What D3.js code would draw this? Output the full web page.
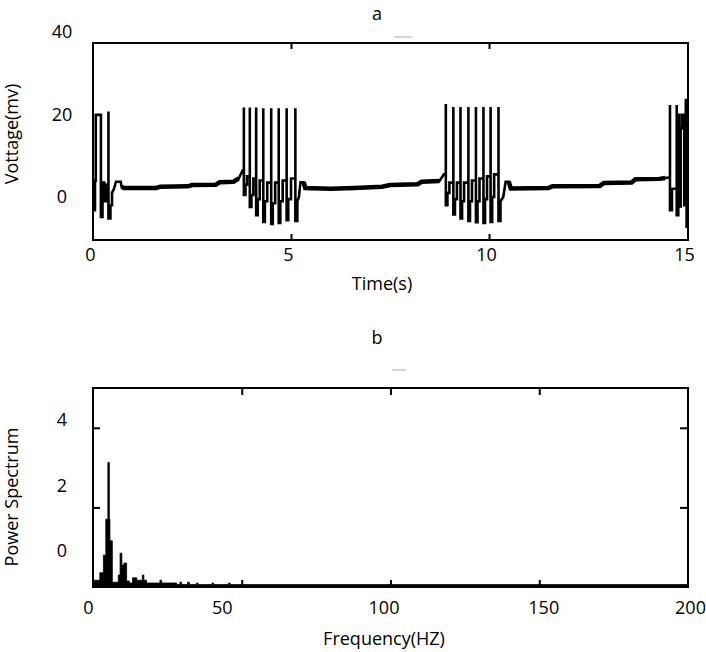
<!DOCTYPE html>
<html>
<head>
<meta charset="utf-8">
<script src="https://cdn.jsdelivr.net/npm/d3@7"></script>
<style>
body{margin:0;background:#fff;}
text{font-family:"Open Sans",sans-serif;fill:#000;}
</style>
</head>
<body>
<div id="chart"></div>
<script>
// DATOS: traza de voltaje (t en s, v en mV)
const voltageTrace = [
  [0.00,1.0],[0.03,1.0],[0.03,-3.2],[0.05,-3.2],[0.05,4.0],[0.07,4.0],[0.07,19.9],[0.20,19.9],[0.20,-4.8],[0.24,-4.8],
  [0.24,3.5],[0.28,3.5],[0.28,-1.0],[0.33,-1.0],[0.33,3.0],[0.39,3.0],[0.39,20.7],[0.39,-5.2],[0.44,-5.2],[0.44,-2.0],
  [0.48,-2.0],[0.48,1.0],[0.53,2.0],[0.58,3.7],[0.70,3.7],[0.72,2.5],[0.78,2.2],
  [1.6,2.2],[1.7,2.5],[2.4,2.6],[2.5,2.9],[3.1,3.0],[3.2,3.6],[3.55,3.7],[3.68,4.5],[3.78,6.5],
  [3.81,6.5],[3.81,21.7],[3.81,0.5],[3.85,0.5],[3.85,3.0],[3.89,3.0],[3.89,5.0],[3.96,5.0],
  [3.96,21.7],[3.96,-2.4],[4.00,-2.4],[4.00,0.5],[4.05,0.5],[4.05,4.5],[4.12,4.5],
  [4.12,21.7],[4.12,-4.4],[4.16,-4.4],[4.16,-0.5],[4.21,-0.5],[4.21,4.0],[4.30,4.0],
  [4.30,21.5],[4.30,-6.0],[4.34,-6.0],[4.34,-1.0],[4.40,-1.0],[4.40,3.5],[4.50,3.5],
  [4.50,21.5],[4.50,-6.5],[4.54,-6.5],[4.54,-1.5],[4.60,-1.5],[4.60,3.5],[4.69,3.5],
  [4.69,21.5],[4.69,-6.3],[4.73,-6.3],[4.73,-1.0],[4.79,-1.0],[4.79,4.0],[4.89,4.0],
  [4.89,21.5],[4.89,-5.6],[4.93,-5.6],[4.93,-0.5],[5.00,-0.5],[5.00,4.5],[5.11,4.5],
  [5.11,21.5],[5.11,-5.8],[5.16,-5.8],[5.16,-1.0],[5.20,0.0],[5.24,3.6],[5.32,3.6],[5.36,2.2],
  [6.0,2.0],[6.6,2.2],[7.3,2.5],[7.5,2.9],[8.2,3.1],[8.3,3.7],[8.75,3.9],[8.86,5.5],
  [8.91,5.5],[8.91,22.5],[8.91,-2.0],[8.95,-2.0],[8.95,1.0],[9.00,1.0],[9.00,3.5],[9.10,3.5],
  [9.10,21.8],[9.10,-4.2],[9.14,-4.2],[9.14,-0.5],[9.19,-0.5],[9.19,3.5],[9.28,3.5],
  [9.28,21.8],[9.28,-5.2],[9.32,-5.2],[9.32,-1.0],[9.37,-1.0],[9.37,3.5],[9.48,3.5],
  [9.48,21.8],[9.48,-5.8],[9.52,-5.8],[9.52,-1.0],[9.57,-1.0],[9.57,4.0],[9.67,4.0],
  [9.67,21.8],[9.67,-6.1],[9.71,-6.1],[9.71,-1.0],[9.76,-1.0],[9.76,4.5],[9.86,4.5],
  [9.86,21.8],[9.86,-6.3],[9.90,-6.3],[9.90,-0.5],[9.95,-0.5],[9.95,5.0],[10.04,5.0],
  [10.04,21.8],[10.04,-6.0],[10.08,-6.0],[10.08,0.0],[10.13,0.0],[10.13,5.5],[10.24,5.5],
  [10.24,21.8],[10.24,-5.8],[10.29,-5.8],[10.29,-1.0],[10.36,0.0],[10.42,3.7],[10.50,3.7],[10.55,2.1],
  [11.5,2.2],[11.6,2.6],[12.8,2.7],[12.9,3.4],[13.6,3.5],[13.7,4.3],[14.3,4.4],[14.45,4.6],
  [14.57,4.8],[14.57,22.3],[14.57,-3.2],[14.62,-3.2],[14.62,2.0],[14.74,2.0],[14.74,22.3],[14.74,-4.4],
  [14.78,-4.4],[14.78,19.9],[14.80,19.9],[14.80,-2.3],[14.84,-2.3],[14.84,16.7],[14.87,16.7],[14.87,19.9],
  [14.93,19.9],[14.93,-2.0],[14.97,-2.0],[14.97,23.5],[14.99,23.5],[14.99,-7.2],[15.0,-7.2]
];
// tramos de reposo (traza mas gruesa)
const restSpans = [[0.72,3.72],[5.32,8.8],[10.5,14.5]];

// espectro de potencia (Hz, potencia)
const specFreq  = [0,2.3,3.5,4.3,5.0,5.5,5.7,6.5,8.5,9.1,9.7,10.4,11.3,12.2,13.3,14.7,16.6,17.1,18.0,22.5,23.1,28.1,29.2,29.8,31.8,32.4,34.8,35.3,40.0,40.5,45.6,46.1,200];
const specPower = [0.17,0.36,0.8,1.7,3.13,1.7,1.16,0.12,0.3,0.85,0.55,0.6,0.15,0.1,0.23,0.17,0.3,0.17,0.1,0.17,0.1,0.06,0.12,0.06,0.12,0.06,0.1,0.06,0.1,0.06,0.1,0.06,0.06];

const timeTicks = [0,5,10,15];
const voltTicks = [0,20,40];
const freqTicks = [0,50,100,150,200];
const powerTicks = [0,2,4];

const FS = 18;
const svg = d3.select("#chart").append("svg").attr("width",706).attr("height",652);

function styleAxis(g){
  g.attr("font-size",FS).attr("font-family","'Open Sans',sans-serif");
  g.select(".domain").remove();
}

//PANEL A
const pa = {left:93, top:43, width:595, height:197};
const xT = d3.scaleLinear().domain([0,15]).range([0,594]);
const yV = d3.scaleLinear().domain([-10.4,37.3]).range([pa.height,0]);
const ga = svg.append("g").attr("transform","translate(" + pa.left + "," + pa.top + ")");

const line = d3.line().x(d => xT(d[0])).y(d => yV(d[1]));

ga.append("path").datum(voltageTrace)
  .attr("d",line).attr("fill","none").attr("stroke","#000")
  .attr("stroke-width",2.6).attr("stroke-linejoin","miter");

restSpans.forEach(function(s){
  ga.append("path").datum(voltageTrace.filter(d => d[0] >= s[0] && d[0] <= s[1]))
    .attr("d",line).attr("fill","none").attr("stroke","#000")
    .attr("stroke-width",4.5);
});

ga.append("rect").attr("width",pa.width).attr("height",pa.height)
  .attr("fill","none").attr("stroke","#000").attr("stroke-width",2);

// ticks hacia dentro
ga.append("g").attr("transform","translate(0," + pa.height + ")")
  .call(d3.axisBottom(xT).tickValues(timeTicks.slice(1,-1)).tickSize(-6).tickFormat(""))
  .call(styleAxis).selectAll("line").attr("stroke-width",2);
ga.append("g")
  .call(d3.axisTop(xT).tickValues(timeTicks.slice(1,-1)).tickSize(-6).tickFormat(""))
  .call(styleAxis).selectAll("line").attr("stroke-width",2);

// etiquetas
ga.append("g").attr("transform","translate(0," + pa.height + ")")
  .call(d3.axisBottom(xT).tickValues(timeTicks).tickSize(0).tickPadding(8).tickFormat(d3.format("d")))
  .call(styleAxis).selectAll("text").attr("dx",-3);
ga.append("g")
  .call(d3.axisLeft(yV).tickValues(voltTicks).tickSize(0).tickFormat(d3.format("d")))
  .call(styleAxis).selectAll("text").attr("x",-31).attr("text-anchor","middle");

//PANEL B
const pb = {left:93, top:388, width:595, height:199};
const xF = d3.scaleLinear().domain([0,200]).range([0,pb.width]);
const yP = d3.scaleLinear().domain([0,5]).range([pb.height,0]);
const yPlab = d3.scaleLinear().domain([0,4]).range([163,32]);
const gb = svg.append("g").attr("transform","translate(" + pb.left + "," + pb.top + ")");

const spec = specFreq.map((f,i) => ({f:f, p:specPower[i]}));
gb.append("path").datum(spec)
  .attr("d", d3.area().curve(d3.curveStepAfter)
    .x(d => xF(d.f)).y0(pb.height).y1(d => yP(d.p)))
  .attr("fill","#000").attr("stroke","#000").attr("stroke-width",0.8);

gb.append("rect").attr("width",pb.width).attr("height",pb.height)
  .attr("fill","none").attr("stroke","#000").attr("stroke-width",2);

gb.append("g").attr("transform","translate(0," + pb.height + ")")
  .call(d3.axisBottom(xF).tickValues(freqTicks.slice(1,-1)).tickSize(-7).tickFormat(""))
  .call(styleAxis).selectAll("line").attr("stroke-width",2);
gb.append("g")
  .call(d3.axisTop(xF).tickValues(freqTicks.slice(1,-1)).tickSize(-7).tickFormat(""))
  .call(styleAxis).selectAll("line").attr("stroke-width",2);
gb.append("g")
  .call(d3.axisLeft(yP).tickValues(powerTicks.slice(1)).tickSize(-7).tickFormat(""))
  .call(styleAxis).selectAll("line").attr("stroke-width",2);
gb.append("g").attr("transform","translate(" + pb.width + ",0)")
  .call(d3.axisRight(yP).tickValues(powerTicks.slice(1)).tickSize(-8).tickFormat(""))
  .call(styleAxis).selectAll("line").attr("stroke-width",2);

const freqNudge = [-5,-20,-7,4,2];
gb.append("g").attr("transform","translate(0," + pb.height + ")")
  .call(d3.axisBottom(xF).tickValues(freqTicks).tickSize(0).tickPadding(14).tickFormat(d3.format("d")))
  .call(styleAxis).selectAll("text").attr("dx",(d,i) => freqNudge[i]);
gb.append("g")
  .call(d3.axisLeft(yPlab).tickValues(powerTicks).tickSize(0).tickFormat(d3.format("d")))
  .call(styleAxis).selectAll("text").attr("x",-31).attr("text-anchor","middle");

//TITULOS
svg.append("text").attr("x",377).attr("y",20).attr("text-anchor","middle").attr("font-size",FS).text("a");
svg.append("text").attr("x",377).attr("y",344).attr("text-anchor","middle").attr("font-size",FS).text("b");
svg.append("text").attr("x",382).attr("y",290).attr("text-anchor","middle").attr("font-size",FS).text("Time(s)");
svg.append("text").attr("x",384).attr("y",645).attr("text-anchor","middle").attr("font-size",FS).text("Frequency(HZ)");
svg.append("text").attr("transform","translate(18,134) rotate(-90)").attr("text-anchor","middle").attr("font-size",FS).text("Vottage(mv)");
svg.append("text").attr("transform","translate(18,497) rotate(-90)").attr("text-anchor","middle").attr("font-size",FS).text("Power Spectrum");

// pequeñas marcas grises
svg.append("line").attr("x1",394).attr("x2",412).attr("y1",37).attr("y2",37).attr("stroke","#c8c8c8").attr("stroke-width",1.5);
svg.append("line").attr("x1",392).attr("x2",406).attr("y1",370).attr("y2",370).attr("stroke","#c8c8c8").attr("stroke-width",1.5);
</script>
</body>
</html>
